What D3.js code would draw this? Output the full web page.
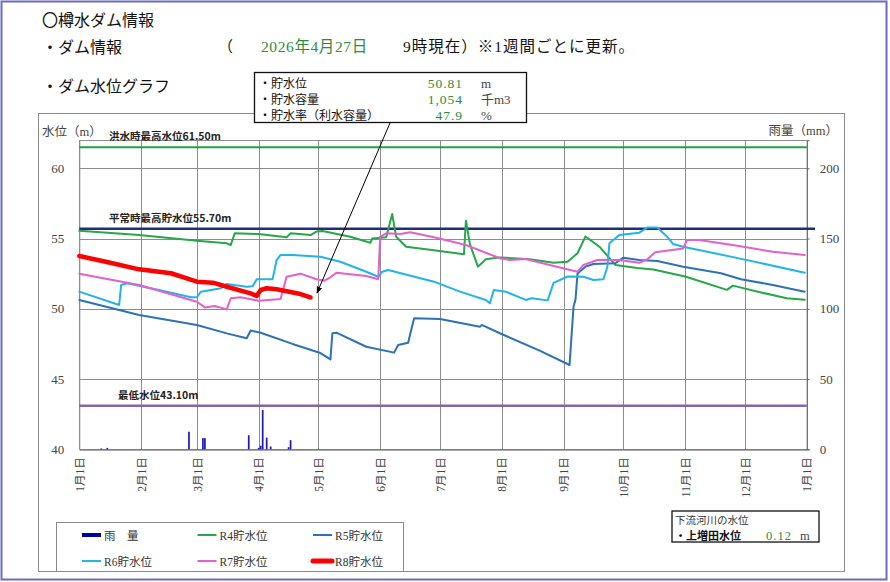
<!DOCTYPE html>
<html><head><meta charset="utf-8">
<script src="https://cdn.jsdelivr.net/npm/d3@7"></script>
<style>body{margin:0;background:#fff;overflow:hidden}</style>
</head><body>
<svg id="c" width="890" height="582"></svg>
<script>
const YEAR = "2026";
const monthTicks = ["2026-01-01","2026-02-01","2026-03-01","2026-04-01","2026-05-01","2026-06-01","2026-07-01","2026-08-01","2026-09-01","2026-10-01","2026-11-01","2026-12-01","2027-01-01"];
const monthLabels = ["1月1日","2月1日","3月1日","4月1日","5月1日","6月1日","7月1日","8月1日","9月1日","10月1日","11月1日","12月1日","1月1日"];
const levelTicks = [40,45,50,55,60];
const rainTicks = [0,50,100,150,200];

const r4 = [["01-01",55.55],["01-31",55.25],["03-01",54.85],["03-16",54.66],["03-18",54.54],["03-20",55.37],["04-01",55.32],["04-15",55.09],["04-17",55.37],["04-27",55.25],["04-30",55.5],["05-03",55.54],["05-17",55.13],["05-27",54.7],["05-28",55.0],["06-04",55.09],["06-07",56.75],["06-09",55.13],["06-14",54.42],["06-27",54.19],["07-13",53.88],["07-14",56.27],["07-16",54.6],["07-20",53.0],["07-24",53.52],["07-31",53.66],["08-15",53.52],["08-27",53.28],["09-03",53.35],["09-08",53.95],["09-12",55.15],["09-19",54.42],["09-27",53.12],["10-08",52.9],["10-16",52.8],["11-01",52.3],["11-22",51.35],["11-25",51.65],["12-08",51.2],["12-22",50.75],["12-31",50.65]];
const r5 = [["01-01",50.63],["01-31",49.56],["03-01",48.85],["03-16",48.25],["03-26",47.9],["03-28",48.45],["04-02",48.3],["04-18",47.5],["05-02",46.85],["05-07",46.4],["05-08",48.26],["05-10",48.3],["05-25",47.3],["06-08",46.88],["06-10",47.42],["06-15",47.59],["06-18",49.32],["07-01",49.27],["07-21",48.73],["07-22",48.85],["07-31",48.26],["08-20",47.02],["09-04",46.0],["09-06",50.15],["09-07",50.67],["09-08",52.52],["09-12",53.0],["09-16",53.19],["09-27",53.24],["10-01",53.64],["10-09",53.47],["10-18",53.4],["10-31",53.0],["11-19",52.53],["11-29",52.1],["12-15",51.7],["12-31",51.22]];
const r6 = [["01-01",51.22],["01-21",50.27],["01-22",51.7],["01-25",51.82],["02-10",51.34],["02-26",50.82],["03-01",50.82],["03-03",51.22],["03-08",51.34],["03-13",51.46],["03-16",51.77],["03-26",51.57],["03-29",51.6],["03-31",52.1],["04-08",52.1],["04-10",53.47],["04-12",53.83],["04-18",53.83],["05-02",53.7],["05-12",53.35],["05-25",52.64],["05-31",52.28],["06-02",52.64],["06-05",52.76],["06-28",51.93],["07-11",51.22],["07-24",50.63],["07-26",50.39],["07-28",51.34],["08-03",51.22],["08-13",50.63],["08-16",50.75],["08-24",50.6],["08-27",51.85],["09-03",52.3],["09-11",52.28],["09-16",52.05],["09-21",52.1],["09-23",53.0],["09-24",54.66],["09-29",55.25],["10-09",55.42],["10-13",55.78],["10-18",55.78],["10-23",55.13],["10-26",54.61],["10-31",54.42],["11-28",53.59],["12-31",52.57]];
const r7 = [["01-01",52.5],["01-31",51.7],["03-01",50.5],["03-05",50.1],["03-10",50.2],["03-16",49.96],["03-18",50.75],["03-23",50.82],["04-01",50.58],["04-12",50.7],["04-15",52.28],["04-22",52.5],["04-30",52.1],["05-04",52.0],["05-07",52.24],["05-10",52.57],["05-25",52.33],["05-31",52.1],["06-01",55.13],["06-04",55.37],["06-11",55.32],["06-16",55.45],["06-28",55.09],["07-14",54.54],["07-31",53.6],["08-05",53.47],["08-13",53.54],["08-25",53.12],["09-08",52.64],["09-11",53.12],["09-18",53.47],["09-29",53.47],["10-09",53.28],["10-13",53.52],["10-17",54.02],["10-31",54.3],["11-02",54.9],["11-08",54.9],["11-28",54.47],["12-15",54.06],["12-31",53.83]];
const r8 = [["01-01",53.76],["01-16",53.3],["01-31",52.81],["02-16",52.53],["03-01",51.93],["03-09",51.86],["03-16",51.57],["03-28",51.1],["03-31",50.91],["04-02",51.34],["04-05",51.46],["04-10",51.39],["04-22",51.05],["04-27",50.81]];
const rain = [["01-12",0.6],["01-15",1],["02-25",12.5],["03-04",8],["03-05",8],["03-27",10],["04-01",1],["04-02",2.5],["04-03",28],["04-05",8.3],["04-07",2],["04-16",1.5],["04-17",6.5]];

const refLines = [
  {label:"洪水時最高水位61.50m", value:61.5},
  {label:"平常時最高貯水位55.70m", value:55.7},
  {label:"最低水位43.10m", value:43.1}
];
const infoRows = [["・貯水位","50.81","m"],["・貯水容量","1,054","千m3"],["・貯水率（利水容量）","47.9","%"]];
const legendItems = ["雨　量","R4貯水位","R5貯水位","R6貯水位","R7貯水位","R8貯水位"];

const SANS = "'Noto Sans CJK JP', sans-serif";
const SERIF = "'Liberation Serif', 'Noto Sans CJK JP', serif";
const parse = d3.timeParse("%Y-%m-%d");
const pd = s => parse(YEAR + "-" + s);

const svg = d3.select("#c");
const X0 = 79.3, X1 = 806.7, YB = 449.3, YT = 140.2;
const x = d3.scaleTime().domain([parse(monthTicks[0]), parse(monthTicks[12])]).range([X0, X1]);
const y = d3.scaleLinear().domain([40, 62]).range([YB, YT]);
const yR = d3.scaleLinear().domain([0, 220]).range([YB, YT]);

// outer border
svg.append("rect").attr("x",1.5).attr("y",1.5).attr("width",885).attr("height",578)
  .attr("fill","none").attr("stroke","#6b6bc4").attr("stroke-width",2);
// chart frame
svg.append("rect").attr("x",38.5).attr("y",113.5).attr("width",806).attr("height",458)
  .attr("fill","none").attr("stroke","#8a8a8a").attr("stroke-width",1);

// header
const hdr = svg.append("g").attr("fill","#111");
hdr.append("text").attr("x",42).attr("y",26).attr("font-family",SANS).attr("font-size",16).text("〇樽水ダム情報");
hdr.append("text").attr("x",42).attr("y",53).attr("font-family",SANS).attr("font-size",16).text("・ダム情報");
hdr.append("text").attr("x",218).attr("y",52).attr("font-family",SERIF).attr("font-size",15).text("（");
hdr.append("text").attr("x",261).attr("y",52).attr("font-family",SERIF).attr("font-size",15.5).attr("letter-spacing",0.6).attr("fill","#2e8b3e").text("2026年4月27日");
hdr.append("text").attr("x",403).attr("y",52).attr("font-family",SERIF).attr("font-size",15.5).attr("letter-spacing",1).text("9時現在）※1週間ごとに更新。");
hdr.append("text").attr("x",42).attr("y",92).attr("font-family",SANS).attr("font-size",16).text("・ダム水位グラフ");

// grid
const grid = svg.append("g").attr("stroke","#8c8c8c").attr("stroke-width",1);
grid.selectAll(".h").data([45,50,55,60,62]).join("line")
  .attr("x1",X0).attr("x2",X1).attr("y1",d=>Math.round(y(d))+0.5).attr("y2",d=>Math.round(y(d))+0.5);
grid.selectAll(".v").data(monthTicks).join("line")
  .attr("x1",d=>Math.round(x(parse(d)))+0.5).attr("x2",d=>Math.round(x(parse(d)))+0.5)
  .attr("y1",YT).attr("y2",YB);

// axes
const axL = svg.append("g").attr("transform",`translate(${X0},0)`)
  .call(d3.axisLeft(y).tickValues(levelTicks).tickSize(0).tickPadding(15));
const axR = svg.append("g").attr("transform",`translate(${X1},0)`)
  .call(d3.axisRight(yR).tickValues(rainTicks).tickSize(3).tickPadding(10));
const axB = svg.append("g").attr("transform",`translate(0,${YB})`)
  .call(d3.axisBottom(x).tickValues(monthTicks.map(parse)).tickSize(0).tickFormat((d,i)=>monthLabels[i]));
[axL,axR,axB].forEach(a=>{
  a.select(".domain").attr("stroke","#666");
  a.selectAll(".tick line").attr("stroke","#666");
  a.selectAll("text").attr("font-family",SERIF).attr("font-size",13).attr("fill","#444");
});
axL.select(".domain").attr("stroke","#8c8c8c");
axB.select(".domain").attr("stroke","#555").attr("stroke-width",1.2);
axB.selectAll("text").attr("font-size",11.5)
  .attr("transform","rotate(-90)").attr("text-anchor","end")
  .attr("x",-8).attr("y",0).attr("dy","0.36em");

svg.append("text").attr("x",42).attr("y",136).attr("font-family",SERIF).attr("font-size",12.5).attr("fill","#444").text("水位（m）");
svg.append("text").attr("x",838).attr("y",135).attr("text-anchor","end").attr("font-family",SERIF).attr("font-size",12.5).attr("fill","#444").text("雨量（mm）");

// rain bars
svg.append("g").selectAll("rect").data(rain).join("rect")
  .attr("x",d=>x(pd(d[0]))-0.8).attr("width",1.7)
  .attr("y",d=>yR(d[1])).attr("height",d=>yR(0)-yR(d[1]))
  .attr("fill","#1a1ab0");

// reference lines
const refStyle = [{c:"#24a03c",w:2.2,x2:X1},{c:"#1f2f7a",w:2.6,x2:815},{c:"#8466a8",w:2.6,x2:X1}];
const refLabelX = [109,109,118];
refLines.forEach((r,i)=>{
  svg.append("line").attr("x1",X0).attr("x2",refStyle[i].x2).attr("y1",y(r.value)).attr("y2",y(r.value))
    .attr("stroke",refStyle[i].c).attr("stroke-width",refStyle[i].w);
  svg.append("text").attr("x",refLabelX[i]).attr("y",y(r.value)-7).attr("font-family",SANS)
    .attr("font-size",10.5).attr("font-weight","bold").attr("fill","#222").text(r.label);
});

// series
const line = d3.line().x(d=>x(pd(d[0]))).y(d=>y(d[1]));
const series = [
  {d:r4,c:"#27a64a",w:2},
  {d:r5,c:"#2c72b5",w:2},
  {d:r6,c:"#22b4e8",w:2},
  {d:r7,c:"#e261cb",w:2},
  {d:r8,c:"#ff0000",w:4.5}
];
series.forEach(s=>{
  svg.append("path").datum(s.d).attr("d",line).attr("fill","none")
    .attr("stroke",s.c).attr("stroke-width",s.w).attr("stroke-linejoin","round").attr("stroke-linecap","round");
});

// info box + arrow
svg.append("defs").append("marker").attr("id","ah").attr("viewBox","0 0 10 10").attr("refX",9).attr("refY",5)
  .attr("markerWidth",7).attr("markerHeight",7).attr("orient","auto")
  .append("path").attr("d","M0,1 L10,5 L0,9 Z").attr("fill","#000");
svg.append("line").attr("x1",390).attr("y1",123).attr("x2",317).attr("y2",293)
  .attr("stroke","#000").attr("stroke-width",1).attr("marker-end","url(#ah)");
svg.append("rect").attr("x",254.5).attr("y",72.5).attr("width",272).attr("height",50)
  .attr("fill","#fff").attr("stroke","#111").attr("stroke-width",1.3);
infoRows.forEach((r,i)=>{
  const yy = 87.5 + i*16.2;
  svg.append("text").attr("x",259).attr("y",yy).attr("font-family",SANS).attr("font-size",12).attr("fill","#111").text(r[0]);
  svg.append("text").attr("x",463).attr("y",yy).attr("text-anchor","end").attr("font-family",SERIF).attr("font-size",13.5)
    .attr("letter-spacing",1).attr("fill","#2e8b3e").text(r[1]);
  svg.append("text").attr("x",481).attr("y",yy).attr("font-family",SERIF).attr("font-size",13).attr("fill","#444").text(r[2]);
});

// legend
svg.append("rect").attr("x",56.5).attr("y",522.5).attr("width",347).attr("height",49)
  .attr("fill","#fff").attr("stroke","#888").attr("stroke-width",1);
const legStyle = [{c:"#0000a0",w:4},{c:"#27a64a",w:2},{c:"#2c72b5",w:2},{c:"#22b4e8",w:2},{c:"#e261cb",w:2},{c:"#ff0000",w:5}];
legendItems.forEach((t,i)=>{
  const col = i%3, row = Math.floor(i/3);
  const lx = 82 + col*115.5, ly = 535 + row*26;
  svg.append("line").attr("x1",lx).attr("x2",lx+19).attr("y1",ly).attr("y2",ly)
    .attr("stroke",legStyle[i].c).attr("stroke-width",legStyle[i].w).attr("stroke-linecap",i===5?"round":"butt");
  svg.append("text").attr("x",lx+22).attr("y",ly+4.5).attr("font-family",SERIF).attr("font-size",11.5).attr("fill","#333").text(t);
});

// downstream box
svg.append("rect").attr("x",672).attr("y",511).attr("width",147).attr("height",31)
  .attr("fill","#fff").attr("stroke","#111").attr("stroke-width",1.3);
svg.append("text").attr("x",675).attr("y",523.5).attr("font-family",SANS).attr("font-size",10.5).attr("fill","#333").text("下流河川の水位");
svg.append("text").attr("x",675).attr("y",540).attr("font-family",SANS).attr("font-size",11).attr("font-weight","bold").attr("fill","#111").text("・上増田水位");
svg.append("text").attr("x",766).attr("y",540).attr("font-family",SERIF).attr("font-size",12.5).attr("letter-spacing",1).attr("fill","#2e8b3e").text("0.12");
svg.append("text").attr("x",800).attr("y",540).attr("font-family",SERIF).attr("font-size",12.5).attr("fill","#444").text("m");
</script>
</body></html>
